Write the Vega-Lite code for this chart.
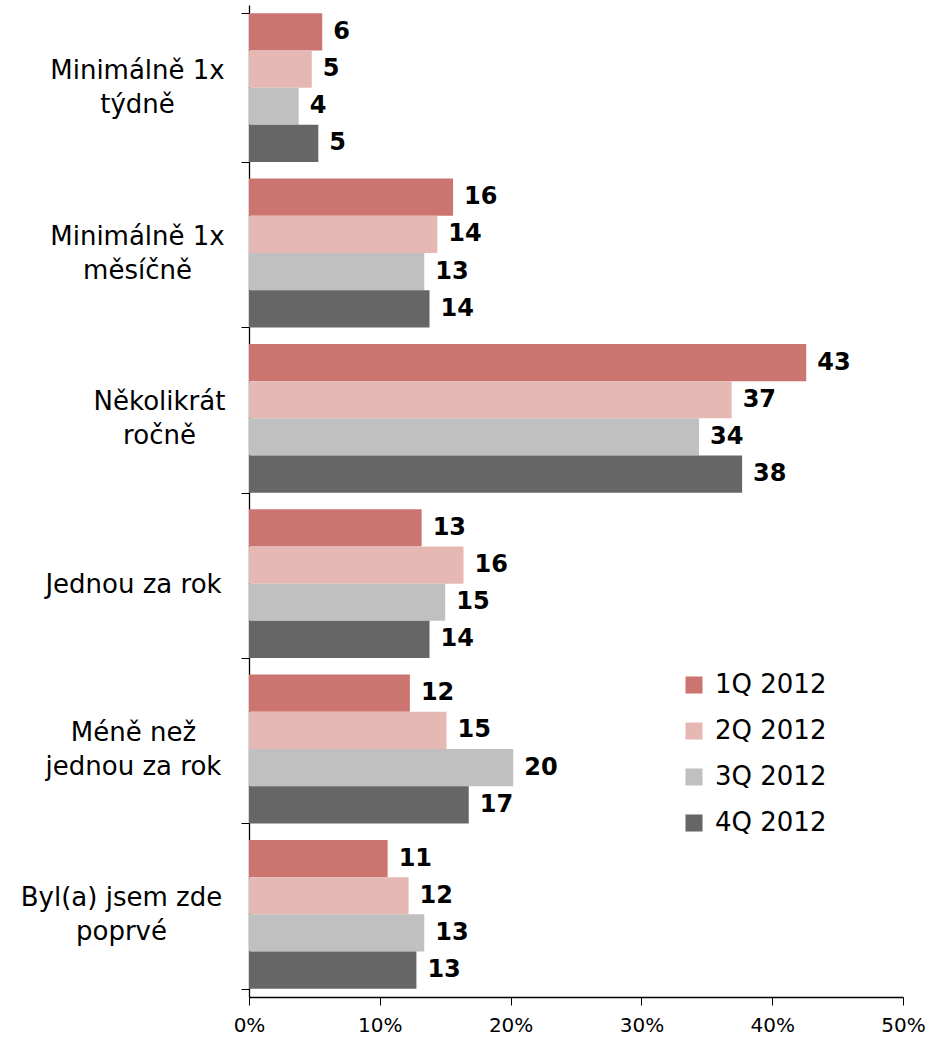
{
  "$schema": "https://vega.github.io/schema/vega-lite/v6.json",
  "autosize": {"type": "none"},
  "padding": {"left": 249, "top": 5, "right": 27, "bottom": 42},
  "width": 654,
  "height": 992,
  "background": "white",
  "config": {
    "font": "DejaVu Sans",
    "view": {"stroke": null}
  },
  "data": {
    "values": [
      {"frekvence": "Minimálně 1x týdně", "obdobi": "1Q 2012", "hodnota": 5.6},
      {"frekvence": "Minimálně 1x týdně", "obdobi": "2Q 2012", "hodnota": 4.8},
      {"frekvence": "Minimálně 1x týdně", "obdobi": "3Q 2012", "hodnota": 3.8},
      {"frekvence": "Minimálně 1x týdně", "obdobi": "4Q 2012", "hodnota": 5.3},
      {"frekvence": "Minimálně 1x měsíčně", "obdobi": "1Q 2012", "hodnota": 15.6},
      {"frekvence": "Minimálně 1x měsíčně", "obdobi": "2Q 2012", "hodnota": 14.4},
      {"frekvence": "Minimálně 1x měsíčně", "obdobi": "3Q 2012", "hodnota": 13.4},
      {"frekvence": "Minimálně 1x měsíčně", "obdobi": "4Q 2012", "hodnota": 13.8},
      {"frekvence": "Několikrát ročně", "obdobi": "1Q 2012", "hodnota": 42.6},
      {"frekvence": "Několikrát ročně", "obdobi": "2Q 2012", "hodnota": 36.9},
      {"frekvence": "Několikrát ročně", "obdobi": "3Q 2012", "hodnota": 34.4},
      {"frekvence": "Několikrát ročně", "obdobi": "4Q 2012", "hodnota": 37.7},
      {"frekvence": "Jednou za rok", "obdobi": "1Q 2012", "hodnota": 13.2},
      {"frekvence": "Jednou za rok", "obdobi": "2Q 2012", "hodnota": 16.4},
      {"frekvence": "Jednou za rok", "obdobi": "3Q 2012", "hodnota": 15.0},
      {"frekvence": "Jednou za rok", "obdobi": "4Q 2012", "hodnota": 13.8},
      {"frekvence": "Méně než jednou za rok", "obdobi": "1Q 2012", "hodnota": 12.3},
      {"frekvence": "Méně než jednou za rok", "obdobi": "2Q 2012", "hodnota": 15.1},
      {"frekvence": "Méně než jednou za rok", "obdobi": "3Q 2012", "hodnota": 20.2},
      {"frekvence": "Méně než jednou za rok", "obdobi": "4Q 2012", "hodnota": 16.8},
      {"frekvence": "Byl(a) jsem zde poprvé", "obdobi": "1Q 2012", "hodnota": 10.6},
      {"frekvence": "Byl(a) jsem zde poprvé", "obdobi": "2Q 2012", "hodnota": 12.2},
      {"frekvence": "Byl(a) jsem zde poprvé", "obdobi": "3Q 2012", "hodnota": 13.4},
      {"frekvence": "Byl(a) jsem zde poprvé", "obdobi": "4Q 2012", "hodnota": 12.8}
    ]
  },
  "encoding": {
    "y": {
      "field": "frekvence",
      "type": "nominal",
      "sort": null,
      "scale": {"paddingInner": 0.1, "paddingOuter": 0.05},
      "axis": {
        "title": null,
        "domainColor": "#000000",
        "domainWidth": 1.3,
        "tickColor": "#000000",
        "tickSize": 8,
        "tickBand": "extent",
        "labelAlign": "center",
        "labelBaseline": "middle",
        "labelPadding": {
          "condition": [
            {"test": "datum.value == 'Několikrát ročně'", "value": 82},
            {"test": "datum.value == 'Jednou za rok'", "value": 108},
            {"test": "datum.value == 'Méně než jednou za rok'", "value": 108},
            {"test": "datum.value == 'Byl(a) jsem zde poprvé'", "value": 120}
          ],
          "value": 104
        },
        "labelOffset": {
          "condition": {"test": "datum.value == 'Jednou za rok'", "value": 1},
          "value": -17
        },
        "labelFontSize": 26,
        "labelLineHeight": 34,
        "labelColor": "#000000",
        "labelLimit": 300,
        "labelExpr": "datum.label == 'Minimálně 1x týdně' ? ['Minimálně 1x', 'týdně'] : datum.label == 'Minimálně 1x měsíčně' ? ['Minimálně 1x', 'měsíčně'] : datum.label == 'Několikrát ročně' ? ['Několikrát', 'ročně'] : datum.label == 'Méně než jednou za rok' ? ['Méně než', 'jednou za rok'] : datum.label == 'Byl(a) jsem zde poprvé' ? ['Byl(a) jsem zde', 'poprvé'] : datum.label"
      }
    },
    "yOffset": {"field": "obdobi", "type": "nominal", "sort": ["1Q 2012", "2Q 2012", "3Q 2012", "4Q 2012"]},
    "x": {
      "field": "hodnota",
      "type": "quantitative",
      "scale": {"domain": [0, 50], "nice": false},
      "axis": {
        "title": null,
        "values": [0, 10, 20, 30, 40, 50],
        "grid": false,
        "domainColor": "#000000",
        "domainWidth": 1.3,
        "tickColor": "#000000",
        "tickSize": 8,
        "labelFontSize": 20,
        "labelColor": "#000000",
        "labelPadding": 10,
        "labelFlush": false,
        "labelExpr": "datum.value + '%'"
      }
    }
  },
  "layer": [
    {
      "mark": {"type": "bar"},
      "encoding": {
        "color": {
          "field": "obdobi",
          "type": "nominal",
          "scale": {
            "domain": ["1Q 2012", "2Q 2012", "3Q 2012", "4Q 2012"],
            "range": ["#CC7470", "#E6B8B4", "#C0C0C0", "#666666"]
          },
          "legend": {
            "title": null,
            "orient": "none",
            "legendX": 432,
            "legendY": 667,
            "symbolType": "square",
            "symbolSize": 290,
            "symbolStrokeWidth": 0,
            "labelFontSize": 26,
            "labelColor": "#000000",
            "labelOffset": 8,
            "rowPadding": 20,
            "symbolOpacity": 1
          }
        }
      }
    },
    {
      "mark": {"type": "text", "align": "left", "baseline": "middle", "dx": 11, "fontSize": 24, "fontWeight": "bold", "color": "#000000"},
      "encoding": {
        "text": {"field": "hodnota", "type": "quantitative", "format": ".0f"}
      }
    }
  ]
}
